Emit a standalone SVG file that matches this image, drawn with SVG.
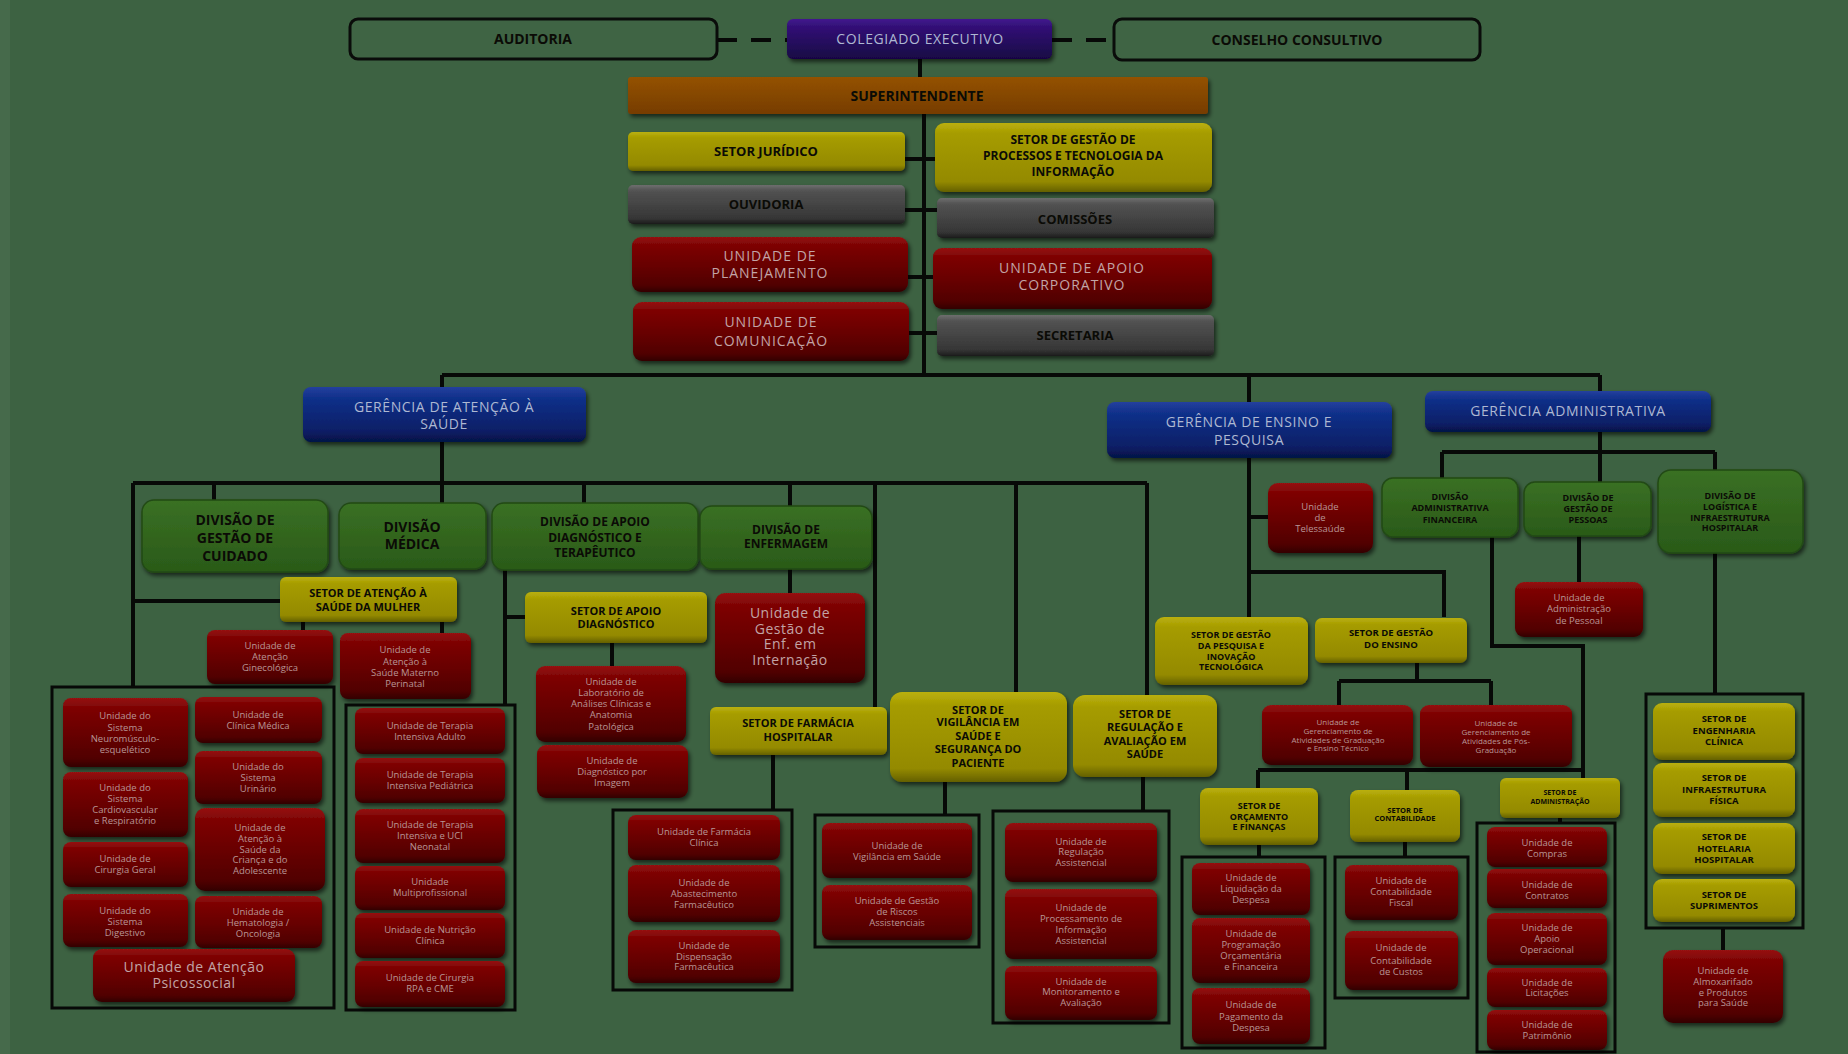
<svg xmlns="http://www.w3.org/2000/svg" width="1848" height="1054" viewBox="0 0 1848 1054">
<defs>
<linearGradient id="gR" x1="0" y1="0" x2="0" y2="1"><stop offset="0" stop-color="#961212"/><stop offset="0.14" stop-color="#7e0404"/><stop offset="0.55" stop-color="#660000"/><stop offset="0.88" stop-color="#500000"/><stop offset="1" stop-color="#320000"/></linearGradient>
<linearGradient id="gY" x1="0" y1="0" x2="0" y2="1"><stop offset="0" stop-color="#bab00c"/><stop offset="0.15" stop-color="#a69c02"/><stop offset="0.85" stop-color="#948a00"/><stop offset="1" stop-color="#646000"/></linearGradient>
<linearGradient id="gG" x1="0" y1="0" x2="0" y2="1"><stop offset="0" stop-color="#6e6e6e"/><stop offset="0.15" stop-color="#525252"/><stop offset="0.85" stop-color="#363636"/><stop offset="1" stop-color="#1c1c1c"/></linearGradient>
<linearGradient id="gB" x1="0" y1="0" x2="0" y2="1"><stop offset="0" stop-color="#24409e"/><stop offset="0.2" stop-color="#10308a"/><stop offset="0.8" stop-color="#0a1f66"/><stop offset="1" stop-color="#051246"/></linearGradient>
<linearGradient id="gP" x1="0" y1="0" x2="0" y2="1"><stop offset="0" stop-color="#42198e"/><stop offset="0.2" stop-color="#321076"/><stop offset="1" stop-color="#180644"/></linearGradient>
<linearGradient id="gO" x1="0" y1="0" x2="0" y2="1"><stop offset="0" stop-color="#945206"/><stop offset="1" stop-color="#763c00"/></linearGradient>
<linearGradient id="gD" x1="0" y1="0" x2="0" y2="1"><stop offset="0" stop-color="#3a7024"/><stop offset="1" stop-color="#2a5a18"/></linearGradient>
<filter id="sh" x="-10%" y="-15%" width="125%" height="140%"><feDropShadow dx="2" dy="3" stdDeviation="2" flood-color="#000" flood-opacity="0.6"/></filter>
<style>
.ln{stroke:#070907;stroke-width:4;fill:none}
.dl{stroke:#070907;stroke-width:4;fill:none;stroke-dasharray:20 14}
.ct{stroke:#070907;stroke-width:3;fill:none}
.ol{fill:#3f6444;stroke:#0a0c0a;stroke-width:3}
.r{fill:url(#gR);filter:url(#sh)}
.y{fill:url(#gY);filter:url(#sh)}
.g{fill:url(#gG);filter:url(#sh)}
.b{fill:url(#gB);filter:url(#sh)}
.p{fill:url(#gP);filter:url(#sh)}
.o{fill:url(#gO);filter:url(#sh)}
.d{fill:url(#gD);stroke:#224a15;stroke-width:1.5;filter:url(#sh)}
text{font-family:"Open Sans","Liberation Sans",sans-serif;text-anchor:middle}
.tb{font-weight:700;fill:#0b0b06}
.tw{fill:#c2a4a6;letter-spacing:1px;font-size:14px}
.tbl{fill:#aeb8d2;letter-spacing:0.6px;font-size:14px}
.s{fill:#b89696;font-size:9.5px}
.xs{fill:#b89696;font-size:8px}
.m{fill:#c2a4a6;font-size:14px;letter-spacing:0.5px}
</style>
</defs>
<rect x="0" y="0" width="1848" height="1054" fill="#3d6242"/>
<rect x="0" y="0" width="10" height="1054" fill="#466a4b"/>

<g id="connectors">
<path class="dl" d="M717 40H787M1052 40H1114"/>
<path class="ln" d="M920 59V77M924 114V375M905 159H935M905 210H937M908 277H933M909 333H937M442 375H1600M442 375V503M1249 375V617M1600 375V482"/>
<path class="ln" d="M133 483H1147M133 483V687M214 483V500M584 483V503M790 483V593M875 483V707M1016 483V692M1147 483V695M133 601H280M303 622V630M442 622V633M505 570V705M505 617H525M612 643V666M773 755V810M945 782V815M1143 777V811"/>
<path class="ln" d="M1249 517H1268M1249 572H1444V617M1417 663V681M1339 681H1491M1339 681V705M1491 681V705"/>
<path class="ln" d="M1442 452H1715M1442 452V478M1715 452V470M1579 536V582M1492 537V646H1583V778M1258 770H1583M1258 770V788M1407 770V790M1259 845V857M1405 842V857M1560 818V823M1715 553V694M1723 928V950"/>
<rect class="ct" x="52" y="687" width="282" height="321"/>
<rect class="ct" x="346" y="705" width="169" height="305"/>
<rect class="ct" x="613" y="810" width="179" height="180"/>
<rect class="ct" x="815" y="815" width="164" height="132"/>
<rect class="ct" x="993" y="811" width="176" height="212"/>
<rect class="ct" x="1182" y="857" width="143" height="191"/>
<rect class="ct" x="1335" y="857" width="133" height="141"/>
<rect class="ct" x="1477" y="823" width="138" height="229"/>
<rect class="ct" x="1646" y="694" width="157" height="234"/>
</g>

<g id="auditoria"><rect class="ol" x="350" y="19" width="367" height="40" rx="8"/><text class="tb" x="533" y="44" font-size="14">AUDITORIA</text></g>
<g id="colegiado"><rect class="p" x="787" y="19" width="265" height="40" rx="6"/><text class="tbl" x="920" y="44">COLEGIADO EXECUTIVO</text></g>
<g id="conselho"><rect class="ol" x="1114" y="19" width="366" height="41" rx="8"/><text class="tb" x="1297" y="45" font-size="14">CONSELHO CONSULTIVO</text></g>
<g id="superintendente"><rect class="o" x="628" y="77" width="580" height="37" rx="3"/><text class="tb" x="917" y="101" font-size="14">SUPERINTENDENTE</text></g>

<g id="setor-juridico"><rect class="y" x="628" y="132" width="277" height="39" rx="5"/><text class="tb" x="766" y="156" font-size="13">SETOR JURÍDICO</text></g>
<g id="ouvidoria"><rect class="g" x="628" y="185" width="277" height="39" rx="5"/><text class="tb" x="766" y="209" font-size="13">OUVIDORIA</text></g>
<g id="unidade-planejamento"><rect class="r" x="632" y="237" width="276" height="55" rx="9"/><text class="tw"><tspan x="770" y="261">UNIDADE DE</tspan><tspan x="770" y="278">PLANEJAMENTO</tspan></text></g>
<g id="unidade-comunicacao"><rect class="r" x="633" y="302" width="276" height="59" rx="9"/><text class="tw"><tspan x="771" y="327">UNIDADE DE</tspan><tspan x="771" y="346">COMUNICAÇÃO</tspan></text></g>
<g id="setor-gestao-processos"><rect class="y" x="935" y="123" width="277" height="69" rx="9"/><text class="tb" font-size="12"><tspan x="1073" y="144">SETOR DE GESTÃO DE</tspan><tspan x="1073" y="160">PROCESSOS E TECNOLOGIA DA</tspan><tspan x="1073" y="176">INFORMAÇÃO</tspan></text></g>
<g id="comissoes"><rect class="g" x="937" y="198" width="277" height="40" rx="5"/><text class="tb" x="1075" y="224" font-size="13">COMISSÕES</text></g>
<g id="unidade-apoio-corporativo"><rect class="r" x="933" y="248" width="279" height="61" rx="9"/><text class="tw"><tspan x="1072" y="273">UNIDADE DE APOIO</tspan><tspan x="1072" y="290">CORPORATIVO</tspan></text></g>
<g id="secretaria"><rect class="g" x="937" y="315" width="277" height="41" rx="5"/><text class="tb" x="1075" y="340" font-size="13">SECRETARIA</text></g>

<g id="gerencia-atencao"><rect class="b" x="303" y="387" width="283" height="55" rx="8"/><text class="tbl"><tspan x="444" y="412">GERÊNCIA DE ATENÇÃO À</tspan><tspan x="444" y="429">SAÚDE</tspan></text></g>
<g id="gerencia-ensino"><rect class="b" x="1107" y="402" width="285" height="56" rx="8"/><text class="tbl"><tspan x="1249" y="427">GERÊNCIA DE ENSINO E</tspan><tspan x="1249" y="445">PESQUISA</tspan></text></g>
<g id="gerencia-administrativa"><rect class="b" x="1425" y="391" width="286" height="41" rx="8"/><text class="tbl" x="1568" y="416">GERÊNCIA ADMINISTRATIVA</text></g>

<g id="div-gestao-cuidado"><rect class="d" x="142" y="500" width="186" height="72" rx="12"/><text class="tb" font-size="14"><tspan x="235" y="525">DIVISÃO DE</tspan><tspan x="235" y="543">GESTÃO DE</tspan><tspan x="235" y="561">CUIDADO</tspan></text></g>
<g id="div-medica"><rect class="d" x="339" y="503" width="147" height="66" rx="12"/><text class="tb" font-size="14"><tspan x="412" y="532">DIVISÃO</tspan><tspan x="412" y="549">MÉDICA</tspan></text></g>
<g id="div-apoio"><rect class="d" x="492" y="503" width="206" height="67" rx="12"/><text class="tb" font-size="12"><tspan x="595" y="526">DIVISÃO DE APOIO</tspan><tspan x="595" y="542">DIAGNÓSTICO E</tspan><tspan x="595" y="557">TERAPÊUTICO</tspan></text></g>
<g id="div-enfermagem"><rect class="d" x="700" y="506" width="172" height="63" rx="12"/><text class="tb" font-size="12"><tspan x="786" y="534">DIVISÃO DE</tspan><tspan x="786" y="548">ENFERMAGEM</tspan></text></g>

<g id="setor-saude-mulher"><rect class="y" x="280" y="577" width="177" height="45" rx="6"/><text class="tb" font-size="11"><tspan x="368" y="597">SETOR DE ATENÇÃO À</tspan><tspan x="368" y="611">SAÚDE DA MULHER</tspan></text></g>
<g id="un-ginecologica"><rect class="r" x="207" y="630" width="126" height="54" rx="8"/><text class="s"><tspan x="270" y="649">Unidade de</tspan><tspan x="270" y="660">Atenção</tspan><tspan x="270" y="671">Ginecológica</tspan></text></g>
<g id="un-materno"><rect class="r" x="340" y="633" width="131" height="66" rx="8"/><text class="s"><tspan x="405" y="653">Unidade de</tspan><tspan x="405" y="665">Atenção à</tspan><tspan x="405" y="676">Saúde Materno</tspan><tspan x="405" y="687">Perinatal</tspan></text></g>

<g id="un-neuro"><rect class="r" x="63" y="698" width="125" height="69" rx="8"/><text class="s"><tspan x="125" y="719">Unidade do</tspan><tspan x="125" y="731">Sistema</tspan><tspan x="125" y="742">Neuromúsculo-</tspan><tspan x="125" y="753">esquelético</tspan></text></g>
<g id="un-cardio"><rect class="r" x="63" y="772" width="125" height="65" rx="8"/><text class="s"><tspan x="125" y="791">Unidade do</tspan><tspan x="125" y="802">Sistema</tspan><tspan x="125" y="813">Cardiovascular</tspan><tspan x="125" y="824">e Respiratório</tspan></text></g>
<g id="un-cirurgia-geral"><rect class="r" x="63" y="842" width="125" height="45" rx="8"/><text class="s"><tspan x="125" y="862">Unidade de</tspan><tspan x="125" y="873">Cirurgia Geral</tspan></text></g>
<g id="un-digestivo"><rect class="r" x="63" y="894" width="125" height="53" rx="8"/><text class="s"><tspan x="125" y="914">Unidade do</tspan><tspan x="125" y="925">Sistema</tspan><tspan x="125" y="936">Digestivo</tspan></text></g>
<g id="un-clinica-medica"><rect class="r" x="195" y="697" width="127" height="46" rx="8"/><text class="s"><tspan x="258" y="718">Unidade de</tspan><tspan x="258" y="729">Clínica Médica</tspan></text></g>
<g id="un-urinario"><rect class="r" x="195" y="751" width="127" height="53" rx="8"/><text class="s"><tspan x="258" y="770">Unidade do</tspan><tspan x="258" y="781">Sistema</tspan><tspan x="258" y="792">Urinário</tspan></text></g>
<g id="un-crianca"><rect class="r" x="195" y="808" width="130" height="83" rx="10"/><text class="s"><tspan x="260" y="831">Unidade de</tspan><tspan x="260" y="842">Atenção à</tspan><tspan x="260" y="853">Saúde da</tspan><tspan x="260" y="863">Criança e do</tspan><tspan x="260" y="874">Adolescente</tspan></text></g>
<g id="un-hemato"><rect class="r" x="195" y="896" width="127" height="52" rx="8"/><text class="s"><tspan x="258" y="915">Unidade de</tspan><tspan x="258" y="926">Hematologia /</tspan><tspan x="258" y="937">Oncologia</tspan></text></g>
<g id="un-psicossocial"><rect class="r" x="93" y="949" width="202" height="53" rx="9"/><text class="m"><tspan x="194" y="972">Unidade de Atenção</tspan><tspan x="194" y="988">Psicossocial</tspan></text></g>

<g id="un-uti-adulto"><rect class="r" x="355" y="708" width="150" height="46" rx="8"/><text class="s"><tspan x="430" y="729">Unidade de Terapia</tspan><tspan x="430" y="740">Intensiva Adulto</tspan></text></g>
<g id="un-uti-pediatrica"><rect class="r" x="355" y="758" width="150" height="45" rx="8"/><text class="s"><tspan x="430" y="778">Unidade de Terapia</tspan><tspan x="430" y="789">Intensiva Pediátrica</tspan></text></g>
<g id="un-uti-neonatal"><rect class="r" x="355" y="809" width="150" height="54" rx="8"/><text class="s"><tspan x="430" y="828">Unidade de Terapia</tspan><tspan x="430" y="839">Intensiva e UCI</tspan><tspan x="430" y="850">Neonatal</tspan></text></g>
<g id="un-multiprofissional"><rect class="r" x="355" y="866" width="150" height="44" rx="8"/><text class="s"><tspan x="430" y="885">Unidade</tspan><tspan x="430" y="896">Multiprofissional</tspan></text></g>
<g id="un-nutricao"><rect class="r" x="355" y="913" width="150" height="45" rx="8"/><text class="s"><tspan x="430" y="933">Unidade de Nutrição</tspan><tspan x="430" y="944">Clínica</tspan></text></g>
<g id="un-cirurgia-rpa"><rect class="r" x="355" y="961" width="150" height="46" rx="8"/><text class="s"><tspan x="430" y="981">Unidade de Cirurgia</tspan><tspan x="430" y="992">RPA e CME</tspan></text></g>

<g id="setor-apoio-diagnostico"><rect class="y" x="525" y="592" width="182" height="51" rx="6"/><text class="tb" font-size="11"><tspan x="616" y="615">SETOR DE APOIO</tspan><tspan x="616" y="628">DIAGNÓSTICO</tspan></text></g>
<g id="un-laboratorio"><rect class="r" x="536" y="666" width="150" height="76" rx="9"/><text class="s"><tspan x="611" y="685">Unidade de</tspan><tspan x="611" y="696">Laboratório de</tspan><tspan x="611" y="707">Análises Clínicas e</tspan><tspan x="611" y="718">Anatomia</tspan><tspan x="611" y="730">Patológica</tspan></text></g>
<g id="un-imagem"><rect class="r" x="537" y="745" width="151" height="53" rx="9"/><text class="s"><tspan x="612" y="764">Unidade de</tspan><tspan x="612" y="775">Diagnóstico por</tspan><tspan x="612" y="786">Imagem</tspan></text></g>
<g id="un-gestao-enf"><rect class="r" x="715" y="593" width="150" height="90" rx="10"/><text class="m" font-size="12.5"><tspan x="790" y="618">Unidade de</tspan><tspan x="790" y="633.5">Gestão de</tspan><tspan x="790" y="649">Enf. em</tspan><tspan x="790" y="664.5">Internação</tspan></text></g>

<g id="setor-farmacia"><rect class="y" x="710" y="707" width="177" height="48" rx="6"/><text class="tb" font-size="11"><tspan x="798" y="727">SETOR DE FARMÁCIA</tspan><tspan x="798" y="741">HOSPITALAR</tspan></text></g>
<g id="un-farmacia-clinica"><rect class="r" x="628" y="815" width="152" height="45" rx="8"/><text class="s"><tspan x="704" y="835">Unidade de Farmácia</tspan><tspan x="704" y="846">Clínica</tspan></text></g>
<g id="un-abastecimento"><rect class="r" x="628" y="865" width="152" height="57" rx="8"/><text class="s"><tspan x="704" y="886">Unidade de</tspan><tspan x="704" y="897">Abastecimento</tspan><tspan x="704" y="908">Farmacêutico</tspan></text></g>
<g id="un-dispensacao"><rect class="r" x="628" y="930" width="152" height="53" rx="8"/><text class="s"><tspan x="704" y="949">Unidade de</tspan><tspan x="704" y="960">Dispensação</tspan><tspan x="704" y="970">Farmacêutica</tspan></text></g>

<g id="setor-vigilancia"><rect class="y" x="890" y="692" width="177" height="90" rx="12"/><text class="tb" font-size="11"><tspan x="978" y="714">SETOR DE</tspan><tspan x="978" y="726">VIGILÂNCIA EM</tspan><tspan x="978" y="740">SAÚDE E</tspan><tspan x="978" y="753">SEGURANÇA DO</tspan><tspan x="978" y="767">PACIENTE</tspan></text></g>
<g id="un-vigilancia"><rect class="r" x="822" y="823" width="150" height="55" rx="8"/><text class="s"><tspan x="897" y="849">Unidade de</tspan><tspan x="897" y="860">Vigilância em Saúde</tspan></text></g>
<g id="un-riscos"><rect class="r" x="822" y="885" width="150" height="55" rx="8"/><text class="s"><tspan x="897" y="904">Unidade de Gestão</tspan><tspan x="897" y="915">de Riscos</tspan><tspan x="897" y="926">Assistenciais</tspan></text></g>

<g id="setor-regulacao"><rect class="y" x="1073" y="695" width="144" height="82" rx="12"/><text class="tb" font-size="11"><tspan x="1145" y="718">SETOR DE</tspan><tspan x="1145" y="731">REGULAÇÃO E</tspan><tspan x="1145" y="745">AVALIAÇÃO EM</tspan><tspan x="1145" y="758">SAÚDE</tspan></text></g>
<g id="un-regulacao"><rect class="r" x="1005" y="823" width="152" height="59" rx="8"/><text class="s"><tspan x="1081" y="845">Unidade de</tspan><tspan x="1081" y="855">Regulação</tspan><tspan x="1081" y="866">Assistencial</tspan></text></g>
<g id="un-processamento"><rect class="r" x="1005" y="889" width="152" height="70" rx="8"/><text class="s"><tspan x="1081" y="911">Unidade de</tspan><tspan x="1081" y="922">Processamento de</tspan><tspan x="1081" y="933">Informação</tspan><tspan x="1081" y="944">Assistencial</tspan></text></g>
<g id="un-monitoramento"><rect class="r" x="1005" y="966" width="152" height="54" rx="8"/><text class="s"><tspan x="1081" y="985">Unidade de</tspan><tspan x="1081" y="995">Monitoramento e</tspan><tspan x="1081" y="1006">Avaliação</tspan></text></g>

<g id="un-telessaude"><rect class="r" x="1268" y="483" width="105" height="70" rx="10"/><text class="s"><tspan x="1320" y="510">Unidade</tspan><tspan x="1320" y="521">de</tspan><tspan x="1320" y="532">Telessaúde</tspan></text></g>
<g id="setor-pesquisa"><rect class="y" x="1155" y="617" width="153" height="68" rx="9"/><text class="tb" font-size="9"><tspan x="1231" y="638">SETOR DE GESTÃO</tspan><tspan x="1231" y="649">DA PESQUISA E</tspan><tspan x="1231" y="660">INOVAÇÃO</tspan><tspan x="1231" y="670">TECNOLÓGICA</tspan></text></g>
<g id="setor-ensino"><rect class="y" x="1315" y="618" width="152" height="45" rx="7"/><text class="tb" font-size="9.5"><tspan x="1391" y="636">SETOR DE GESTÃO</tspan><tspan x="1391" y="648">DO ENSINO</tspan></text></g>
<g id="un-graduacao"><rect class="r" x="1262" y="705" width="151" height="60" rx="9"/><text class="xs"><tspan x="1338" y="725">Unidade de</tspan><tspan x="1338" y="734">Gerenciamento de</tspan><tspan x="1338" y="743">Atividades de Graduação</tspan><tspan x="1338" y="751">e Ensino Técnico</tspan></text></g>
<g id="un-pos-graduacao"><rect class="r" x="1420" y="705" width="152" height="62" rx="9"/><text class="xs"><tspan x="1496" y="726">Unidade de</tspan><tspan x="1496" y="735">Gerenciamento de</tspan><tspan x="1496" y="744">Atividades de Pós-</tspan><tspan x="1496" y="753">Graduação</tspan></text></g>

<g id="div-adm-financeira"><rect class="d" x="1382" y="478" width="136" height="59" rx="11"/><text class="tb" font-size="9"><tspan x="1450" y="500">DIVISÃO</tspan><tspan x="1450" y="511">ADMINISTRATIVA</tspan><tspan x="1450" y="523">FINANCEIRA</tspan></text></g>
<g id="div-gestao-pessoas"><rect class="d" x="1524" y="482" width="127" height="54" rx="11"/><text class="tb" font-size="9"><tspan x="1588" y="501">DIVISÃO DE</tspan><tspan x="1588" y="512">GESTÃO DE</tspan><tspan x="1588" y="523">PESSOAS</tspan></text></g>
<g id="div-logistica"><rect class="d" x="1658" y="470" width="145" height="83" rx="13"/><text class="tb" font-size="9"><tspan x="1730" y="499">DIVISÃO DE</tspan><tspan x="1730" y="510">LOGÍSTICA E</tspan><tspan x="1730" y="521">INFRAESTRUTURA</tspan><tspan x="1730" y="531">HOSPITALAR</tspan></text></g>
<g id="un-adm-pessoal"><rect class="r" x="1515" y="582" width="128" height="55" rx="9"/><text class="s"><tspan x="1579" y="601">Unidade de</tspan><tspan x="1579" y="612">Administração</tspan><tspan x="1579" y="624">de Pessoal</tspan></text></g>

<g id="setor-orcamento"><rect class="y" x="1200" y="788" width="118" height="57" rx="8"/><text class="tb" font-size="9"><tspan x="1259" y="809">SETOR DE</tspan><tspan x="1259" y="820">ORÇAMENTO</tspan><tspan x="1259" y="830">E FINANÇAS</tspan></text></g>
<g id="setor-contabilidade"><rect class="y" x="1350" y="790" width="110" height="52" rx="8"/><text class="tb" font-size="7.5"><tspan x="1405" y="813">SETOR DE</tspan><tspan x="1405" y="821">CONTABILIDADE</tspan></text></g>
<g id="setor-administracao"><rect class="y" x="1500" y="778" width="120" height="40" rx="6"/><text class="tb" font-size="7"><tspan x="1560" y="795">SETOR DE</tspan><tspan x="1560" y="804">ADMINISTRAÇÃO</tspan></text></g>

<g id="un-liquidacao"><rect class="r" x="1192" y="863" width="118" height="52" rx="8"/><text class="s"><tspan x="1251" y="881">Unidade de</tspan><tspan x="1251" y="892">Liquidação da</tspan><tspan x="1251" y="903">Despesa</tspan></text></g>
<g id="un-programacao"><rect class="r" x="1192" y="918" width="118" height="65" rx="8"/><text class="s"><tspan x="1251" y="937">Unidade de</tspan><tspan x="1251" y="948">Programação</tspan><tspan x="1251" y="959">Orçamentária</tspan><tspan x="1251" y="970">e Financeira</tspan></text></g>
<g id="un-pagamento"><rect class="r" x="1192" y="988" width="118" height="56" rx="8"/><text class="s"><tspan x="1251" y="1008">Unidade de</tspan><tspan x="1251" y="1020">Pagamento da</tspan><tspan x="1251" y="1031">Despesa</tspan></text></g>
<g id="un-contab-fiscal"><rect class="r" x="1345" y="865" width="113" height="55" rx="8"/><text class="s"><tspan x="1401" y="884">Unidade de</tspan><tspan x="1401" y="895">Contabilidade</tspan><tspan x="1401" y="906">Fiscal</tspan></text></g>
<g id="un-contab-custos"><rect class="r" x="1345" y="931" width="113" height="59" rx="8"/><text class="s"><tspan x="1401" y="951">Unidade de</tspan><tspan x="1401" y="964">Contabilidade</tspan><tspan x="1401" y="975">de Custos</tspan></text></g>

<g id="un-compras"><rect class="r" x="1487" y="827" width="120" height="40" rx="8"/><text class="s"><tspan x="1547" y="846">Unidade de</tspan><tspan x="1547" y="857">Compras</tspan></text></g>
<g id="un-contratos"><rect class="r" x="1487" y="869" width="120" height="39" rx="8"/><text class="s"><tspan x="1547" y="888">Unidade de</tspan><tspan x="1547" y="899">Contratos</tspan></text></g>
<g id="un-apoio-operacional"><rect class="r" x="1487" y="913" width="120" height="52" rx="8"/><text class="s"><tspan x="1547" y="931">Unidade de</tspan><tspan x="1547" y="942">Apoio</tspan><tspan x="1547" y="953">Operacional</tspan></text></g>
<g id="un-licitacoes"><rect class="r" x="1487" y="968" width="120" height="39" rx="8"/><text class="s"><tspan x="1547" y="986">Unidade de</tspan><tspan x="1547" y="996">Licitações</tspan></text></g>
<g id="un-patrimonio"><rect class="r" x="1487" y="1010" width="120" height="40" rx="8"/><text class="s"><tspan x="1547" y="1028">Unidade de</tspan><tspan x="1547" y="1039">Patrimônio</tspan></text></g>

<g id="setor-engenharia"><rect class="y" x="1653" y="703" width="142" height="57" rx="9"/><text class="tb" font-size="9.5"><tspan x="1724" y="722">SETOR DE</tspan><tspan x="1724" y="734">ENGENHARIA</tspan><tspan x="1724" y="745">CLÍNICA</tspan></text></g>
<g id="setor-infraestrutura"><rect class="y" x="1653" y="763" width="142" height="54" rx="9"/><text class="tb" font-size="9.5"><tspan x="1724" y="781">SETOR DE</tspan><tspan x="1724" y="792.5">INFRAESTRUTURA</tspan><tspan x="1724" y="804">FÍSICA</tspan></text></g>
<g id="setor-hotelaria"><rect class="y" x="1653" y="823" width="142" height="51" rx="9"/><text class="tb" font-size="9.5"><tspan x="1724" y="840">SETOR DE</tspan><tspan x="1724" y="851.5">HOTELARIA</tspan><tspan x="1724" y="863">HOSPITALAR</tspan></text></g>
<g id="setor-suprimentos"><rect class="y" x="1653" y="879" width="142" height="43" rx="9"/><text class="tb" font-size="9.5"><tspan x="1724" y="898">SETOR DE</tspan><tspan x="1724" y="909">SUPRIMENTOS</tspan></text></g>
<g id="un-almoxarifado"><rect class="r" x="1663" y="950" width="120" height="73" rx="10"/><text class="s"><tspan x="1723" y="974">Unidade de</tspan><tspan x="1723" y="985">Almoxarifado</tspan><tspan x="1723" y="996">e Produtos</tspan><tspan x="1723" y="1006">para Saúde</tspan></text></g>
</svg>
